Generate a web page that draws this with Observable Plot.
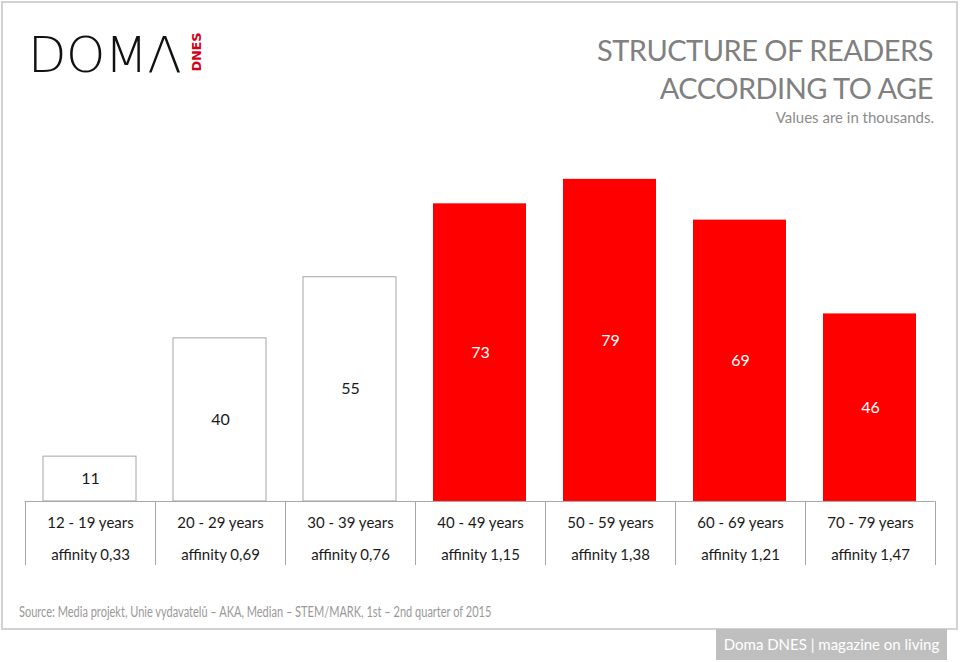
<!DOCTYPE html>
<html>
<head>
<meta charset="utf-8">
<script src="https://cdn.jsdelivr.net/npm/d3@7"></script>
<script src="https://cdn.jsdelivr.net/npm/@observablehq/plot@0.6"></script>
<style>
  html, body { margin: 0; padding: 0; background: #fff; }
  #page { position: relative; width: 960px; height: 662px; overflow: hidden; font-family: Lato, "Open Sans", sans-serif; }
  #frame { position: absolute; left: 1px; top: 1px; width: 953px; height: 625px; border: 2px solid #d2d2d2; }
  #logo { position: absolute; left: 28px; top: 30px; font-family: "DejaVu Sans", sans-serif; font-weight: 200; font-size: 50px; letter-spacing: -0.5px; color: #111; line-height: 1; }
  #logo2 { position: absolute; left: 177px; top: 46px; transform: rotate(-90deg); transform-origin: center; font-family: "DejaVu Sans", sans-serif; font-weight: bold; font-size: 13px; letter-spacing: -0.3px; color: #d0021b; width: 38px; text-align: center; line-height: 13px; }
  #title { position: absolute; right: 27px; top: 31px; text-align: right; color: #808080; font-size: 29px; letter-spacing: -0.5px; line-height: 38px; }
  #subtitle { position: absolute; right: 26px; top: 110px; color: #8c8c8c; font-size: 15px; line-height: 1; }
  #chart { position: absolute; left: 0; top: 130px; }
  #source { position: absolute; left: 19px; top: 605px; color: #999; font-size: 14.5px; line-height: 1; transform: scaleX(0.76); transform-origin: left center; white-space: nowrap; }
  #footer { position: absolute; left: 716px; top: 629px; width: 231px; height: 31px; background: #bfbfbf; color: #fff; font-size: 15px; line-height: 31px; text-align: center; }
</style>
</head>
<body>
<div id="page">
  <div id="frame"></div>
  <div id="logo">DOMΛ</div>
  <div id="logo2">DNES</div>
  <div id="title">STRUCTURE OF READERS<br>ACCORDING TO AGE</div>
  <div id="subtitle">Values are in thousands.</div>
  <div id="chart"></div>
  <div id="source">Source: Media projekt, Unie vydavatelů – AKA, Median – STEM/MARK, 1st – 2nd quarter of 2015</div>
  <div id="footer">Doma DNES | magazine on living</div>
</div>
<script>
const categories = ["12 - 19 years", "20 - 29 years", "30 - 39 years", "40 - 49 years", "50 - 59 years", "60 - 69 years", "70 - 79 years"];
const readers = [11, 40, 55, 73, 79, 69, 46];
const affinity = [0.33, 0.69, 0.76, 1.15, 1.38, 1.21, 1.47];

const data = categories.map((c, i) => ({cat: c, value: readers[i], aff: affinity[i]}));
const fmtAff = v => "affinity " + v.toFixed(2).replace(".", ",");
const lineColor = "#a6a6a6";
const tableBottom = -15.7;

const chart = Plot.plot({
  width: 960,
  height: 450,
  marginLeft: 24.5,
  marginRight: 25.5,
  marginTop: 4,
  marginBottom: 15,
  style: {fontFamily: "Lato, 'Open Sans', sans-serif", background: "transparent", overflow: "visible"},
  x: {domain: categories, padding: 0, axis: null},
  y: {domain: [tableBottom, 90], axis: null},
  marks: [
    Plot.barY(data, {
      x: "cat", y1: 0, y2: "value",
      insetLeft: 18, insetRight: 19,
      fill: d => d.aff > 1 ? "#ff0000" : "#ffffff",
      stroke: d => d.aff > 1 ? "none" : lineColor,
      strokeWidth: 1
    }),
    Plot.text(data, {
      x: "cat", y: d => d.value / 2, text: d => String(d.value),
      fill: d => d.aff > 1 ? "#ffffff" : "#1a1a1a",
      fontSize: 16, lineAnchor: "middle"
    }),
    Plot.ruleY([0], {stroke: lineColor, strokeWidth: 1}),
    Plot.ruleX(categories, {x: d => d, dx: -65, y1: 0, y2: tableBottom, stroke: lineColor, strokeWidth: 1}),
    Plot.ruleX(categories.slice(-1), {x: d => d, dx: 65, y1: 0, y2: tableBottom, stroke: lineColor, strokeWidth: 1}),
    Plot.text(data, {x: "cat", y: 0, dy: 22, text: "cat", fill: "#1a1a1a", fontSize: 15, lineAnchor: "middle"}),
    Plot.text(data, {x: "cat", y: 0, dy: 54, text: d => fmtAff(d.aff), fill: "#1a1a1a", fontSize: 15, lineAnchor: "middle"})
  ]
});
document.getElementById("chart").appendChild(chart);
</script>
</body>
</html>
